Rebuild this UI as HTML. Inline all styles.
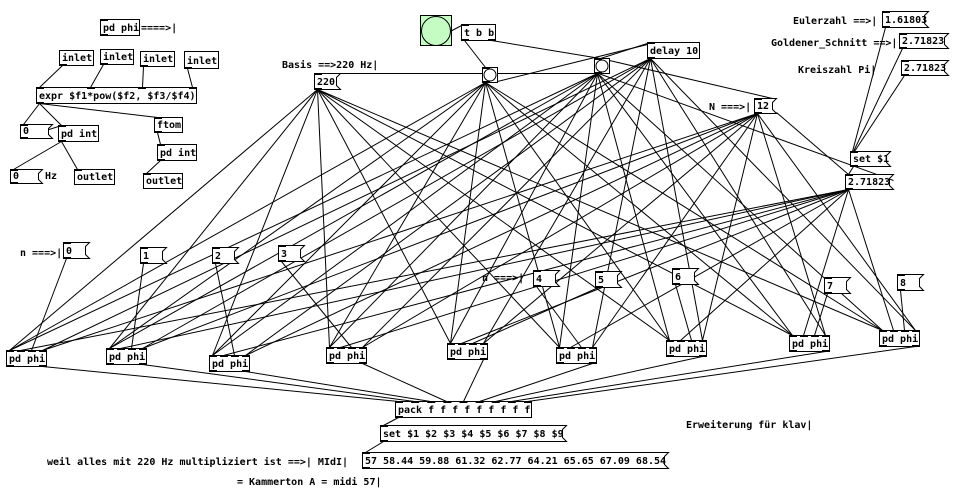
<!DOCTYPE html>
<html><head><meta charset="utf-8">
<style>
html,body{margin:0;padding:0;background:#fff;}
svg{display:block;}
text{font-family:"DejaVu Sans Mono","Liberation Mono",monospace;font-weight:bold;font-size:10px;fill:#000;}
</style></head>
<body>
<svg id="s" width="958" height="499" viewBox="0 0 958 499" xmlns="http://www.w3.org/2000/svg">
<g id="L" stroke="#000" stroke-width="1" fill="none"></g>
<g id="B"></g>
</svg>
<script>
const L=document.getElementById('L'),B=document.getElementById('B');
const NS='http://www.w3.org/2000/svg';
function el(p,t,a,txt){const e=document.createElementNS(NS,t);for(const k in a)e.setAttribute(k,a[k]);if(txt!==undefined)e.textContent=txt;p.appendChild(e);return e;}
function line(a,b){el(L,'line',{x1:a[0]+.5,y1:a[1]+.5,x2:b[0]+.5,y2:b[1]+.5});}
function txt(x,y,s){el(B,'text',{x:x,y:y},s);}
const boxes={};
function box(id,x1,y1,x2,y2,s,type,nin,nout){
  const b={x1,y1,x2,y2,nin,nout};boxes[id]=b;
  if(type==='obj'){el(B,'rect',{x:x1+.5,y:y1+.5,width:x2-x1,height:y2-y1,fill:'#fff',stroke:'#000'});}
  else{
    el(B,'polygon',{points:`${x1+.5},${y1+.5} ${x2+4.5},${y1+.5} ${x2+.5},${y1+4.5} ${x2+.5},${y2-3.5} ${x2+4.5},${y2+.5} ${x1+.5},${y2+.5}`,fill:'#fff',stroke:'#000'});
  }
  for(let i=0;i<nin;i++){const x=nin>1?x1+i*(x2-x1-7)/(nin-1):x1;el(B,'rect',{x:x,y:y1,width:8,height:2,fill:'#000'});}
  for(let i=0;i<nout;i++){const x=nout>1?x1+i*(x2-x1-7)/(nout-1):x1;el(B,'rect',{x:x,y:y2-1,width:8,height:2,fill:'#000'});}
  if(s)txt(x1+3,y2-4,s);
  return b;
}
function inl(id,i){const b=boxes[id];const x=b.nin>1?b.x1+i*(b.x2-b.x1-7)/(b.nin-1):b.x1;return [Math.round(x+3),b.y1];}
function outl(id,i){const b=boxes[id];const x=b.nout>1?b.x1+i*(b.x2-b.x1-7)/(b.nout-1):b.x1;return [Math.round(x+3),b.y2];}

box('phiT',100,19,139,35,'pd phi','obj',1,1);txt(141,31,'====>|');
box('in1',59,50,93,65,'inlet','obj',0,1);
box('in2',100,49,133,64,'inlet','obj',0,1);
box('in3',140,51,174,66,'inlet','obj',0,1);
box('in4',184,51,218,68,'inlet','obj',0,1);
box('expr',36,87,196,103,'expr $f1*pow($f2, $f3/$f4)','obj',4,1);
box('n0',20,124,48,138,'0','flag',1,1);
box('pdint1',58,125,98,141,'pd int','obj',1,1);
box('ftom',154,117,182,132,'ftom','obj',1,1);
box('pdint2',157,144,196,160,'pd int','obj',1,1);
box('hz',10,169,38,183,'0','flag',1,1);txt(45,179,'Hz');
box('out1',74,169,114,184,'outlet','obj',1,0);
box('out2',143,173,182,188,'outlet','obj',1,0);
line(outl('in1',0),inl('expr',0));line(outl('in2',0),[90,87]);line(outl('in3',0),[142,87]);line(outl('in4',0),[192,87]);
line(outl('expr',0),inl('n0',0));line(outl('expr',0),inl('pdint1',0));line(outl('expr',0),inl('ftom',0));
line([24,137],[61,125]);
line(outl('ftom',0),inl('pdint2',0));line(outl('pdint2',0),inl('out2',0));
line(outl('pdint1',0),inl('hz',0));line(outl('pdint1',0),inl('out1',0));

el(B,'rect',{x:420.5,y:15.5,width:31,height:30,fill:'#c4fcc4',stroke:'#000'});
el(B,'circle',{cx:436,cy:31,r:14.5,fill:'none',stroke:'#000'});
box('tbb',461,24,495,40,'t b b','obj',1,2);
line([427,43],[463,24]);
txt(282,68,'Basis ==>220 Hz|');
box('b220',314,73,336,89,'220','flag',1,1);
box('bng1',482,67,497,82,'','obj',1,1);el(B,'circle',{cx:490,cy:75,r:6,fill:'none',stroke:'#000'});
box('bng2',594,58,609,73,'','obj',1,1);el(B,'circle',{cx:602,cy:66,r:6,fill:'none',stroke:'#000'});
box('delay',647,42,699,58,'delay 10','obj',1,1);
line([315,73],[609,73]);
line(outl('tbb',0),inl('bng1',0));line(outl('tbb',1),[600,58]);
line([497,81],[651,43]);line([600,58],inl('delay',0));

txt(793,24,'Eulerzahl ==>|');box('c1',882,11,924,27,'1.61803','flag',1,1);
txt(771,46,'Goldener_Schnitt ==>|');box('c2',899,33,944,48,'2.71823','flag',1,1);
txt(798,73,'Kreiszahl Pi|');box('c3',901,60,944,75,'2.71823','flag',1,1);
box('set1',850,151,886,166,'set $1','flag',1,1);
box('cst',845,174,889,189,'2.71823','flag',1,1);
line(outl('c1',0),[852,151]);line(outl('c2',0),[853,151]);line(outl('c3',0),[854,151]);
line(outl('set1',0),inl('cst',0));
txt(709,110,'N ===>|');box('N',754,98,772,113,'12','flag',1,1);

const P=[[6,350],[106,348],[209,355],[326,347],[447,343],[556,347],[666,340],[789,335],[879,330]];
P.forEach((p,i)=>box('p'+i,p[0],p[1],p[0]+40,p[1]+16,'pd phi','obj',4,2));
txt(20,256,'n ===>|');
const NB=[[63,242],[140,247],[212,247],[278,245],[533,270],[595,271],[672,268],[824,277],[897,274]];
NB.forEach((p,i)=>box('nb'+i,p[0],p[1],p[0]+22,p[1]+16,String(i),'flag',1,1));
txt(482,281,'n ===>|');
const nmap=[0,1,2,3,5,4,6,7,8];
for(let i=0;i<9;i++){
  const id='p'+i;
  line(outl('b220',0),inl(id,0));
  line(outl('bng1',0),inl(id,0));
  line(outl('bng2',0),inl(id,0));
  line(outl('delay',0),inl(id,3));
  line(outl('N',0),inl(id,3));
  line(outl('cst',0),inl(id,1));
  line(outl('nb'+i,0),inl('p'+nmap[i],2));
}
line([609,60],[772,98]);line([776,112],[848,174]);line([598,73],[893,180]);

box('pack',395,401,531,417,'pack f f f f f f f f f','obj',9,1);
for(let i=0;i<9;i++)line(outl('p'+i,1),inl('pack',i));
box('set9',380,425,562,441,'set $1 $2 $3 $4 $5 $6 $7 $8 $9','flag',1,1);
box('msg',362,452,664,468,'57 58.44 59.88 61.32 62.77 64.21 65.65 67.09 68.54','flag',1,1);
line(outl('pack',0),inl('set9',0));line(outl('set9',0),inl('msg',0));
txt(47,465,'weil alles mit 220 Hz multipliziert ist ==>|  MIdI|');
txt(237,485,'= Kammerton A = midi 57|');
txt(686,428,'Erweiterung für klav|');
</script>
</body></html>
